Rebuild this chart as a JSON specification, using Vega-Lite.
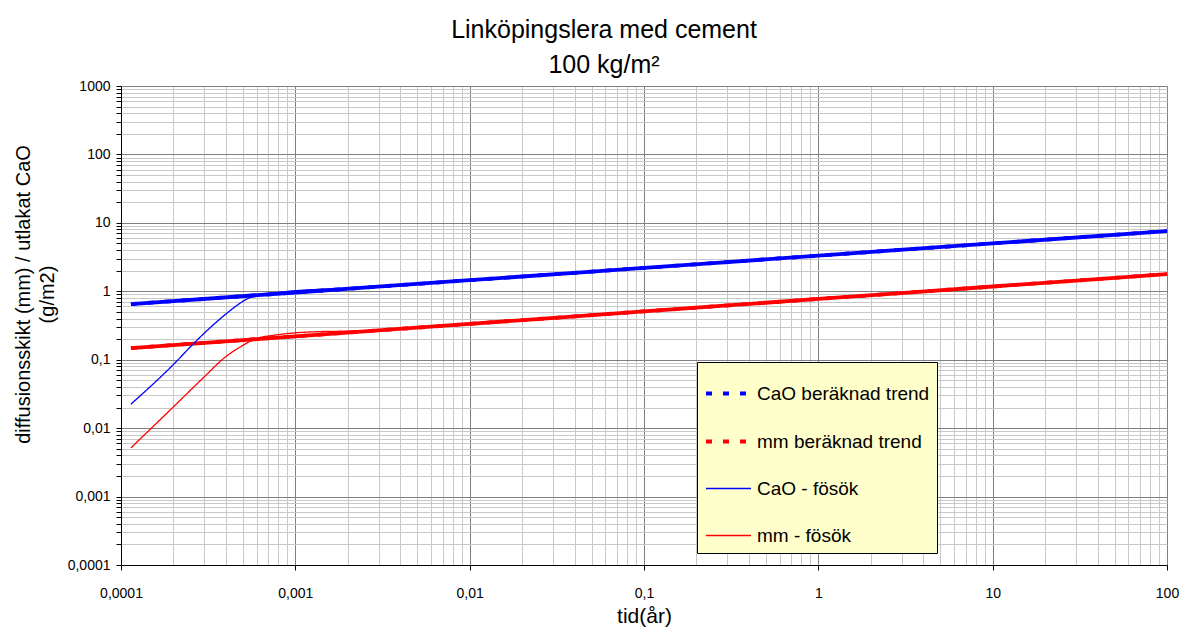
{
  "$schema": "https://vega.github.io/schema/vega-lite/v6.json",
  "width": 1046,
  "height": 479,
  "autosize": {"type": "none"},
  "padding": {"left": 121, "top": 86, "right": 13, "bottom": 63},
  "background": "white",
  "config": {"font": "Liberation Sans", "view": {"stroke": null}},
  "title": {
    "text": ["Linköpingslera med cement", "100 kg/m²"],
    "fontSize": 25,
    "fontWeight": "normal",
    "lineHeight": 35,
    "offset": 1,
    "dx": -40,
    "color": "#000000"
  },
  "data": {
    "values": [
      {"t": 0.000114, "v": 0.650, "serie": "CaO beräknad trend"},
      {"t": 0.001, "v": 0.960, "serie": "CaO beräknad trend"},
      {"t": 0.01, "v": 1.451, "serie": "CaO beräknad trend"},
      {"t": 0.1, "v": 2.194, "serie": "CaO beräknad trend"},
      {"t": 1, "v": 3.317, "serie": "CaO beräknad trend"},
      {"t": 10, "v": 5.015, "serie": "CaO beräknad trend"},
      {"t": 100, "v": 7.58, "serie": "CaO beräknad trend"},
      {"t": 0.000114, "v": 0.148, "serie": "mm beräknad trend"},
      {"t": 0.001, "v": 0.2196, "serie": "mm beräknad trend"},
      {"t": 0.01, "v": 0.334, "serie": "mm beräknad trend"},
      {"t": 0.1, "v": 0.508, "serie": "mm beräknad trend"},
      {"t": 1, "v": 0.772, "serie": "mm beräknad trend"},
      {"t": 10, "v": 1.174, "serie": "mm beräknad trend"},
      {"t": 100, "v": 1.785, "serie": "mm beräknad trend"},
      {"t": 0.000114, "v": 0.0224, "serie": "CaO - fösök"},
      {"t": 0.0002, "v": 0.0853, "serie": "CaO - fösök"},
      {"t": 0.000259, "v": 0.169, "serie": "CaO - fösök"},
      {"t": 0.000346, "v": 0.340, "serie": "CaO - fösök"},
      {"t": 0.000431, "v": 0.543, "serie": "CaO - fösök"},
      {"t": 0.000514, "v": 0.743, "serie": "CaO - fösök"},
      {"t": 0.000586, "v": 0.86, "serie": "CaO - fösök"},
      {"t": 0.000764, "v": 0.95, "serie": "CaO - fösök"},
      {"t": 0.001, "v": 1.02, "serie": "CaO - fösök"},
      {"t": 0.00129, "v": 1.06, "serie": "CaO - fösök"},
      {"t": 0.002, "v": 1.10, "serie": "CaO - fösök"},
      {"t": 0.003, "v": 1.17, "serie": "CaO - fösök"},
      {"t": 0.01, "v": 1.451, "serie": "CaO - fösök"},
      {"t": 0.1, "v": 2.194, "serie": "CaO - fösök"},
      {"t": 1, "v": 3.317, "serie": "CaO - fösök"},
      {"t": 10, "v": 5.015, "serie": "CaO - fösök"},
      {"t": 100, "v": 7.58, "serie": "CaO - fösök"},
      {"t": 0.000114, "v": 0.00515, "serie": "mm - fösök"},
      {"t": 0.0002, "v": 0.0205, "serie": "mm - fösök"},
      {"t": 0.000303, "v": 0.0575, "serie": "mm - fösök"},
      {"t": 0.000394, "v": 0.108, "serie": "mm - fösök"},
      {"t": 0.000492, "v": 0.158, "serie": "mm - fösök"},
      {"t": 0.000586, "v": 0.200, "serie": "mm - fösök"},
      {"t": 0.000764, "v": 0.229, "serie": "mm - fösök"},
      {"t": 0.001, "v": 0.247, "serie": "mm - fösök"},
      {"t": 0.00129, "v": 0.256, "serie": "mm - fösök"},
      {"t": 0.002, "v": 0.262, "serie": "mm - fösök"},
      {"t": 0.003, "v": 0.27, "serie": "mm - fösök"},
      {"t": 0.01, "v": 0.334, "serie": "mm - fösök"},
      {"t": 0.1, "v": 0.508, "serie": "mm - fösök"},
      {"t": 1, "v": 0.772, "serie": "mm - fösök"},
      {"t": 10, "v": 1.174, "serie": "mm - fösök"},
      {"t": 100, "v": 1.785, "serie": "mm - fösök"}
    ]
  },
  "encoding": {
    "x": {
      "field": "t",
      "type": "quantitative",
      "scale": {"type": "log", "domain": [0.0001, 100], "nice": false},
      "axis": {
        "values": [0.0001, 0.0002, 0.0003, 0.0004, 0.0005, 0.0006, 0.0007, 0.0008, 0.0009,
                   0.001, 0.002, 0.003, 0.004, 0.005, 0.006, 0.007, 0.008, 0.009,
                   0.01, 0.02, 0.03, 0.04, 0.05, 0.06, 0.07, 0.08, 0.09,
                   0.1, 0.2, 0.3, 0.4, 0.5, 0.6, 0.7, 0.8, 0.9,
                   1, 2, 3, 4, 5, 6, 7, 8, 9,
                   10, 20, 30, 40, 50, 60, 70, 80, 90, 100],
        "grid": true,
        "gridColor": {"condition": {"test": "abs(log(datum.value)/LN10 - round(log(datum.value)/LN10)) < 0.001", "value": "#808080"}, "value": "#c8c8c8"},
        "gridWidth": 1,
        "tickColor": "#000000",
        "tickSize": 5,
        "tickOpacity": {"condition": {"test": "abs(log(datum.value)/LN10 - round(log(datum.value)/LN10)) < 0.001", "value": 1}, "value": 0},
        "labelExpr": "abs(log(datum.value)/LN10 - round(log(datum.value)/LN10)) < 0.001 ? replace(datum.value + '', '.', ',') : ''",
        "labelFontSize": 14,
        "labelColor": "#000000",
        "labelPadding": 16,
        "labelOverlap": false,
        "labelFlush": false,
        "domainColor": "#000000",
        "domainWidth": 1,
        "title": "tid(år)",
        "titleFontSize": 21,
        "titleFontWeight": "normal",
        "titleColor": "#000000",
        "titleY": 57,
        "titleBaseline": "alphabetic"
      }
    },
    "y": {
      "field": "v",
      "type": "quantitative",
      "scale": {"type": "log", "domain": [0.0001, 1000], "nice": false},
      "axis": {
        "values": [0.0001, 0.0002, 0.0003, 0.0004, 0.0005, 0.0006, 0.0007, 0.0008, 0.0009,
                   0.001, 0.002, 0.003, 0.004, 0.005, 0.006, 0.007, 0.008, 0.009,
                   0.01, 0.02, 0.03, 0.04, 0.05, 0.06, 0.07, 0.08, 0.09,
                   0.1, 0.2, 0.3, 0.4, 0.5, 0.6, 0.7, 0.8, 0.9,
                   1, 2, 3, 4, 5, 6, 7, 8, 9,
                   10, 20, 30, 40, 50, 60, 70, 80, 90,
                   100, 200, 300, 400, 500, 600, 700, 800, 900, 1000],
        "grid": true,
        "gridColor": {"condition": {"test": "abs(log(datum.value)/LN10 - round(log(datum.value)/LN10)) < 0.001", "value": "#808080"}, "value": "#c8c8c8"},
        "gridWidth": 1,
        "tickColor": "#000000",
        "tickSize": 5,
        "labelExpr": "abs(log(datum.value)/LN10 - round(log(datum.value)/LN10)) < 0.001 ? replace(datum.value + '', '.', ',') : ''",
        "labelFontSize": 14,
        "labelColor": "#000000",
        "labelPadding": 6,
        "labelOverlap": false,
        "labelFlush": false,
        "domainColor": "#000000",
        "domainWidth": 1,
        "title": ["diffusionsskikt (mm) / utlakat CaO", "(g/m2)"],
        "titleFontSize": 20,
        "titleFontWeight": "normal",
        "titleColor": "#000000",
        "titleAngle": -90,
        "titleLineHeight": 24,
        "titleAlign": "center",
        "titleBaseline": "middle",
        "titleX": -98,
        "titleY": 208
      }
    }
  },
  "layer": [
    {
      "transform": [{"filter": "indexof(datum.serie, 'trend') >= 0"}],
      "mark": {"type": "line", "interpolate": "monotone", "clip": true, "strokeWidth": 3.8},
      "encoding": {
        "stroke": {
          "field": "serie",
          "type": "nominal",
          "scale": {
            "domain": ["CaO beräknad trend", "mm beräknad trend"],
            "range": ["#0000ff", "#ff0000"]
          },
          "legend": null
        }
      }
    },
    {
      "mark": {"type": "line", "interpolate": "monotone", "clip": true},
      "encoding": {
        "color": {
          "field": "serie",
          "type": "nominal",
          "sort": null,
          "scale": {
            "domain": ["CaO beräknad trend", "mm beräknad trend", "CaO - fösök", "mm - fösök"],
            "range": ["#0000ff", "#ff0000", "#0000ff", "#ff0000"]
          },
          "legend": {
            "orient": "none",
            "legendX": 576,
            "legendY": 276,
            "title": null,
            "fillColor": "#ffffcc",
            "strokeColor": "#000000",
            "padding": 7,
            "labelFontSize": 19,
            "labelColor": "#000000",
            "labelLimit": 400,
            "labelOffset": 4,
            "symbolType": "stroke",
            "symbolSize": 2025,
            "rowPadding": 13
          }
        },
        "strokeDash": {
          "field": "serie",
          "type": "nominal",
          "sort": null,
          "scale": {
            "domain": ["CaO beräknad trend", "mm beräknad trend", "CaO - fösök", "mm - fösök"],
            "range": [[6, 11], [6, 11], [1, 0], [1, 0]]
          },
          "legend": {
            "orient": "none",
            "legendX": 576,
            "legendY": 276,
            "title": null,
            "fillColor": "#ffffcc",
            "strokeColor": "#000000",
            "padding": 7,
            "labelFontSize": 19,
            "labelColor": "#000000",
            "labelLimit": 400,
            "labelOffset": 4,
            "symbolType": "stroke",
            "symbolSize": 2025,
            "rowPadding": 13
          }
        },
        "strokeWidth": {
          "field": "serie",
          "type": "nominal",
          "sort": null,
          "scale": {
            "type": "ordinal",
            "domain": ["CaO beräknad trend", "mm beräknad trend", "CaO - fösök", "mm - fösök"],
            "range": [3.8, 3.8, 1.3, 1.3]
          },
          "legend": {
            "orient": "none",
            "legendX": 576,
            "legendY": 276,
            "title": null,
            "fillColor": "#ffffcc",
            "strokeColor": "#000000",
            "padding": 7,
            "labelFontSize": 19,
            "labelColor": "#000000",
            "labelLimit": 400,
            "labelOffset": 4,
            "symbolType": "stroke",
            "symbolSize": 2025,
            "rowPadding": 13
          }
        }
      }
    }
  ]
}
